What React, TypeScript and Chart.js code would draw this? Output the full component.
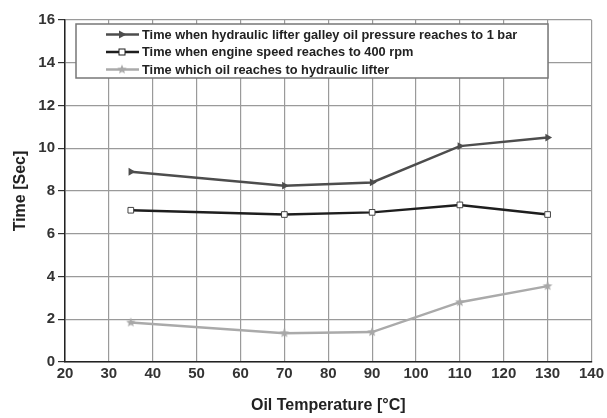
import React, { useEffect, useRef } from 'react';
import { Chart, registerables } from 'chart.js';

Chart.register(...registerables);

const temperatures = [35, 70, 90, 110, 130];
const galleyPressureTime = [8.9, 8.25, 8.4, 10.1, 10.5];
const engineSpeedTime = [7.1, 6.9, 7.0, 7.35, 6.9];
const oilReachTime = [1.85, 1.35, 1.4, 2.8, 3.55];
const seriesLabels = [
  'Time when hydraulic lifter galley oil pressure reaches to 1 bar',
  'Time when engine speed reaches to 400 rpm',
  'Time which oil reaches to hydraulic lifter',
];
const xTitle = 'Oil Temperature [°C]';
const yTitle = 'Time [Sec]';

const FONT = '"Liberation Sans", Arial, sans-serif';

function makeStar(color: string, r: number): HTMLCanvasElement {
  const c = document.createElement('canvas');
  const s = Math.ceil(r * 2 + 2);
  c.width = s;
  c.height = s;
  const ctx = c.getContext('2d')!;
  ctx.fillStyle = color;
  ctx.beginPath();
  for (let i = 0; i < 10; i++) {
    const rad = i % 2 === 0 ? r : r * 0.45;
    const a = -Math.PI / 2 + (i * Math.PI) / 5;
    const x = s / 2 + rad * Math.cos(a);
    const y = s / 2 + rad * Math.sin(a);
    if (i === 0) ctx.moveTo(x, y);
    else ctx.lineTo(x, y);
  }
  ctx.closePath();
  ctx.fill();
  return c;
}

export default function App() {
  const ref = useRef<HTMLCanvasElement | null>(null);

  useEffect(() => {
    document.body.style.margin = '0';
    const star = makeStar('#a8a8a8', 5);
    const colors = ['#4d4d4d', '#1e1e1e', '#aaaaaa'];

    const legendPlugin = {
      id: 'boxLegend',
      afterDatasetsDraw(chart: any) {
        const ctx = chart.ctx as CanvasRenderingContext2D;
        ctx.save();
        const bx = 76, by = 24, bw = 472, bh = 54;
        ctx.fillStyle = '#ffffff';
        ctx.fillRect(bx, by, bw, bh);
        ctx.strokeStyle = '#777777';
        ctx.lineWidth = 1.5;
        ctx.strokeRect(bx, by, bw, bh);
        const rows = [34.5, 52, 69.5];
        chart.data.datasets.forEach((ds: any, i: number) => {
          const y = rows[i];
          ctx.strokeStyle = colors[i];
          ctx.lineWidth = 2.5;
          ctx.beginPath();
          ctx.moveTo(106, y);
          ctx.lineTo(139, y);
          ctx.stroke();
          const cx = 122;
          if (i === 0) {
            ctx.fillStyle = colors[0];
            ctx.beginPath();
            ctx.moveTo(cx + 4.5, y);
            ctx.lineTo(cx - 3, y - 4);
            ctx.lineTo(cx - 3, y + 4);
            ctx.closePath();
            ctx.fill();
          } else if (i === 1) {
            ctx.fillStyle = '#ffffff';
            ctx.fillRect(cx - 3, y - 3, 6, 6);
            ctx.strokeStyle = colors[1];
            ctx.lineWidth = 1;
            ctx.strokeRect(cx - 3, y - 3, 6, 6);
          } else {
            ctx.drawImage(star, cx - star.width / 2, y - star.height / 2);
          }
          ctx.fillStyle = '#222222';
          ctx.font = `bold 12.8px ${FONT}`;
          ctx.textBaseline = 'middle';
          ctx.textAlign = 'left';
          ctx.fillText(ds.label, 142, y + 0.5);
        });
        ctx.restore();
      },
    };

    const tickFont = { family: FONT, size: 15, weight: 'bold' as const };
    const titleFont = { family: FONT, size: 16, weight: 'bold' as const };

    const chart = new Chart(ref.current!, {
      type: 'line',
      data: {
        datasets: [
          {
            label: seriesLabels[0],
            data: temperatures.map((t, i) => ({ x: t, y: galleyPressureTime[i] })),
            borderColor: colors[0],
            backgroundColor: colors[0],
            borderWidth: 2.5,
            pointStyle: 'triangle',
            rotation: 90,
            pointRadius: 4.5,
            pointBorderWidth: 0,
          },
          {
            label: seriesLabels[1],
            data: temperatures.map((t, i) => ({ x: t, y: engineSpeedTime[i] })),
            borderColor: colors[1],
            backgroundColor: '#ffffff',
            borderWidth: 2.5,
            pointStyle: 'rect',
            pointRadius: 4,
            pointBorderWidth: 1,
            pointBorderColor: '#444444',
          },
          {
            label: seriesLabels[2],
            data: temperatures.map((t, i) => ({ x: t, y: oilReachTime[i] })),
            borderColor: colors[2],
            backgroundColor: colors[2],
            borderWidth: 2.5,
            pointStyle: star,
            pointRadius: 5,
          },
        ],
      },
      options: {
        animation: false,
        responsive: false,
        layout: { padding: { top: 20, right: 14, left: 0, bottom: 0 } },
        plugins: { legend: { display: false }, tooltip: { enabled: false } },
        scales: {
          x: {
            type: 'linear',
            min: 20,
            max: 140,
            ticks: { stepSize: 10, font: tickFont, color: '#333333', padding: 3 },
            grid: { color: '#9a9a9a', lineWidth: 1.2, drawTicks: false },
            border: { color: '#222222', width: 1.5 },
            title: { display: true, text: xTitle, font: titleFont, color: '#222222', padding: { top: 0, bottom: 3 } },
            afterFit: (s: any) => {
              s.height = 56;
            },
          },
          y: {
            min: 0,
            max: 16,
            ticks: { stepSize: 2, font: tickFont, color: '#333333', padding: 3 },
            grid: { color: '#9a9a9a', lineWidth: 1.2, tickLength: 7, tickColor: '#333333' },
            border: { color: '#222222', width: 1.5 },
            title: { display: true, text: yTitle, font: titleFont, color: '#222222', padding: { top: 11, bottom: 0 } },
            afterFit: (s: any) => {
              s.width = 65;
            },
          },
        },
      },
      plugins: [legendPlugin],
    });
    return () => chart.destroy();
  }, []);

  return (
    <div style={{ position: 'fixed', left: 0, top: 0, width: 607, height: 418, background: '#fff' }}>
      <canvas ref={ref} width={607} height={418} style={{ width: 607, height: 418 }} />
    </div>
  );
}
